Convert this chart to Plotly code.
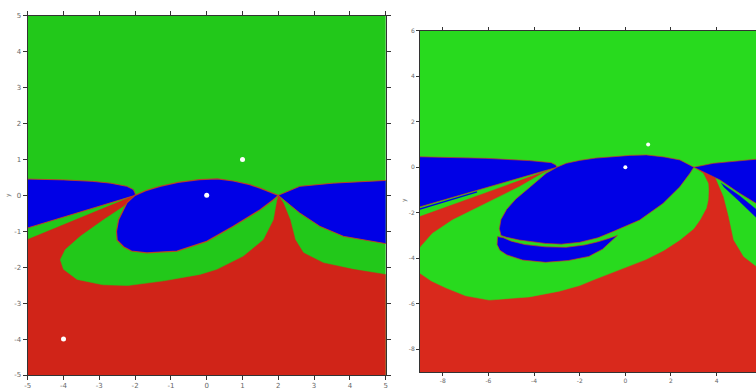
import plotly.graph_objects as go

# ---------------- data ----------------
# Left panel: x, y in [-5, 5]
L_TICKS = [-5, -4, -3, -2, -1, 0, 1, 2, 3, 4, 5]

L_RED_X = [-5.3, -5.0, -2.0, 2.0, 2.14, 2.33, 2.47, 2.7, 3.26, 4.09, 4.98, 5.3, 5.3, -5.3]
L_RED_Y = [-1.35, -1.23, 0.0, 0.0, -0.21, -0.68, -1.23, -1.6, -1.88, -2.06, -2.2, -2.24, -5.3, -5.3]

L_CRES_X = [-2.0, -2.32, -2.88, -3.53, -3.95, -4.09, -4.0, -3.62, -2.9, -2.2, -1.2, -0.19, 0.28, 1.02, 1.58, 1.86, 1.96, 2.0]
L_CRES_Y = [0.0, -0.31, -0.68, -1.14, -1.51, -1.79, -2.06, -2.34, -2.49, -2.51, -2.38, -2.2, -2.06, -1.69, -1.23, -0.68, -0.12, 0.0]

L_LOBE_L_X = [-5.3, -5.0, -4.0, -3.2, -2.69, -2.23, -2.05, -2.0, -2.0, -5.0, -5.3]
L_LOBE_L_Y = [0.46, 0.456, 0.43, 0.39, 0.34, 0.25, 0.16, 0.06, 0.0, -0.906, -0.997]

L_LOBE_R_X = [2.0, 2.6, 3.54, 4.98, 5.3, 5.3, 4.98, 3.82, 3.16, 2.6, 2.0]
L_LOBE_R_Y = [0.0, 0.25, 0.34, 0.42, 0.43, -1.38, -1.34, -1.14, -0.86, -0.49, 0.0]

L_ELL_X = [-2.0, -1.7, -1.3, -0.8, -0.2, 0.3, 0.74, 1.2, 1.49, 1.8, 2.0,
           1.86, 1.49, 0.74, 0.0, -0.83, -1.67, -2.1, -2.32, -2.5, -2.52, -2.46, -2.23, -2.0]
L_ELL_Y = [0.0, 0.13, 0.25, 0.36, 0.44, 0.46, 0.4, 0.3, 0.2, 0.08, 0.0,
           -0.12, -0.4, -0.86, -1.28, -1.55, -1.6, -1.55, -1.43, -1.25, -1.0, -0.68, -0.21, 0.0]

L_PTS_X = [1, 0, -4]
L_PTS_Y = [1, 0, -4]

# Right panel: x in [-9, ~5.7], y in [-9, 6]
R_XTICKS = [-8, -6, -4, -2, 0, 2, 4]
R_YTICKS = [-8, -6, -4, -2, 0, 2, 4, 6]

R_RED_X = [-9.5, -3.0, 3.0, 3.85, 4.29, 4.51, 4.73, 5.17, 5.73, 6.3, 6.3, -9.5]
R_RED_Y = [-2.35, 0.0, 0.0, -0.27, -1.3, -2.17, -3.2, -3.93, -4.37, -4.6, -9.5, -9.5]

R_CRES_X = [-3.0, -3.62, -4.65, -6.11, -7.58, -8.46, -8.97, -9.3, -9.3, -9.0, -8.5, -7.87, -7.0, -5.96,
            -4.21, -2.9, -2.0, -1.42, -0.54, 0.04, 0.92, 1.7, 2.39, 3.0, 3.27, 3.55, 3.63, 3.65, 3.63, 3.41, 3.0]
R_CRES_Y = [0.0, -0.27, -0.86, -1.59, -2.32, -2.91, -3.49, -4.0, -4.5, -4.66, -5.0, -5.3, -5.65, -5.84,
            -5.7, -5.45, -5.2, -4.96, -4.62, -4.37, -4.05, -3.65, -3.2, -2.7, -2.32, -1.8, -1.44, -1.0, -0.71, -0.27, 0.0]

R_LOBE_L_X = [-9.5, -9.0, -6.11, -4.21, -3.25, -3.05, -3.0, -9.0, -9.5]
R_LOBE_L_Y = [0.47, 0.46, 0.39, 0.29, 0.2, 0.1, 0.0, -1.74, -1.89]

R_STRIPE_L_X = [-9.5, -6.5]
R_STRIPE_L_Y = [-1.99, -1.08]

R_LOBE_R_X = [3.0, 3.85, 5.73, 6.3, 6.3, 5.73, 5.02, 4.15, 3.0]
R_LOBE_R_Y = [0.0, 0.17, 0.35, 0.38, -1.8, -1.59, -1.15, -0.56, 0.0]

R_STREAK_X = [4.2, 5.0, 5.73, 6.3, 6.3, 5.73, 5.0, 4.3]
R_STREAK_Y = [-0.7, -1.25, -1.85, -2.1, -2.5, -2.2, -1.5, -0.85]

R_ELL_X = [-3.0, -2.59, -2.0, -1.3, -0.54, 0.2, 0.92, 1.7, 2.39, 2.75, 3.0,
           2.83, 2.39, 1.65, 0.63, -0.54, -1.2, -2.0, -2.8, -3.5, -4.65, -5.2, -5.45,
           -5.52, -5.45, -5.2, -4.8, -4.21, -3.47, -3.0]
R_ELL_Y = [0.0, 0.17, 0.3, 0.4, 0.46, 0.52, 0.54, 0.45, 0.32, 0.15, 0.0,
           -0.27, -0.86, -1.59, -2.32, -2.83, -3.1, -3.3, -3.38, -3.35, -3.2, -3.08, -3.0,
           -2.7, -2.3, -1.85, -1.4, -0.9, -0.27, 0.0]

R_BCRES_X = [-5.6, -5.62, -5.5, -5.2, -4.5, -3.5, -2.5, -1.6, -1.0, -0.6, -0.35,
             -0.7, -1.2, -1.8, -2.6, -3.5, -4.4, -5.0, -5.35, -5.6]
R_BCRES_Y = [-3.05, -3.4, -3.65, -3.85, -4.08, -4.18, -4.1, -3.92, -3.6, -3.25, -3.0,
             -3.12, -3.28, -3.42, -3.52, -3.5, -3.4, -3.25, -3.1, -3.05]

R_PTS_X = [1, 0]
R_PTS_Y = [1, 0]

AXIS_TITLE = "y"

# ---------------- styles ----------------
L_GREEN, L_RED, BLUE = "#22c81a", "#d02418", "#0000e6"
R_GREEN, R_RED = "#28da1e", "#d9291c"
EDGE = "rgba(205,60,30,0.85)"

fig = go.Figure()


def poly(xs, ys, color, ax, ay, edge=None, ew=1.0):
    fig.add_trace(go.Scatter(
        x=xs, y=ys, mode="lines", fill="toself", fillcolor=color,
        line=dict(color=edge if edge else color, width=ew if edge else 0.5),
        hoverinfo="skip", showlegend=False, xaxis=ax, yaxis=ay))


# left panel
poly([-5.3, 5.3, 5.3, -5.3], [-5.3, -5.3, 5.3, 5.3], L_GREEN, "x", "y")
poly(L_RED_X, L_RED_Y, L_RED, "x", "y")
poly(L_CRES_X, L_CRES_Y, L_GREEN, "x", "y")
poly(L_LOBE_L_X, L_LOBE_L_Y, BLUE, "x", "y", EDGE, 1.0)
poly(L_LOBE_R_X, L_LOBE_R_Y, BLUE, "x", "y", EDGE, 1.0)
poly(L_ELL_X, L_ELL_Y, BLUE, "x", "y", EDGE, 1.2)
fig.add_trace(go.Scatter(x=L_PTS_X, y=L_PTS_Y, mode="markers",
                         marker=dict(color="white", size=5), hoverinfo="skip",
                         showlegend=False, xaxis="x", yaxis="y"))

# right panel
poly([-9.5, 6.3, 6.3, -9.5], [-9.5, -9.5, 6.5, 6.5], R_GREEN, "x2", "y2")
poly(R_RED_X, R_RED_Y, R_RED, "x2", "y2")
poly(R_CRES_X, R_CRES_Y, R_GREEN, "x2", "y2")
poly(R_LOBE_L_X, R_LOBE_L_Y, BLUE, "x2", "y2", EDGE, 0.8)
fig.add_trace(go.Scatter(x=R_STRIPE_L_X, y=R_STRIPE_L_Y, mode="lines",
                         line=dict(color=BLUE, width=1.3), hoverinfo="skip",
                         showlegend=False, xaxis="x2", yaxis="y2"))
poly(R_LOBE_R_X, R_LOBE_R_Y, BLUE, "x2", "y2", EDGE, 0.8)
poly(R_STREAK_X, R_STREAK_Y, BLUE, "x2", "y2")
poly(R_ELL_X, R_ELL_Y, BLUE, "x2", "y2", EDGE, 0.8)
poly(R_BCRES_X, R_BCRES_Y, BLUE, "x2", "y2", EDGE, 0.8)
fig.add_trace(go.Scatter(x=R_PTS_X, y=R_PTS_Y, mode="markers",
                         marker=dict(color="white", size=4), hoverinfo="skip",
                         showlegend=False, xaxis="x2", yaxis="y2"))

W, H = 756, 389


def axis(domain, rng, tickvals, size, ticklen, mirror, anchor):
    return dict(domain=domain, range=rng, tickvals=tickvals,
                ticktext=[str(v) for v in tickvals], showgrid=False, zeroline=False,
                showline=True, linecolor="#333", linewidth=1, ticks="outside",
                ticklen=ticklen, tickcolor="#333", tickwidth=1, mirror=mirror,
                tickfont=dict(family="DejaVu Sans", size=size, color="#666"),
                automargin=False, anchor=anchor, fixedrange=True)


fig.update_layout(
    width=W, height=H, margin=dict(l=0, r=0, t=0, b=0),
    template="none", paper_bgcolor="white", plot_bgcolor="white",
    showlegend=False,
    xaxis=axis([27.7 / W, 385.7 / W], [-5, 5], L_TICKS, 7, 4, "ticks", "y"),
    yaxis=axis([(H - 375.0) / H, (H - 15.7) / H], [-5, 5], L_TICKS, 7, 4, "ticks", "x"),
    xaxis2=axis([420.0 / W, 1.0], [-9, (756 - 625.7) / 22.75], R_XTICKS, 6, 3, "ticks", "y2"),
    yaxis2=axis([(H - 372.0) / H, (H - 30.7) / H], [-9, 6], R_YTICKS, 6, 3, False, "x2"),
    annotations=[
        dict(text=AXIS_TITLE, x=8 / W, y=1 - 195 / H, xref="paper", yref="paper", showarrow=False,
             xanchor="center", yanchor="middle",
             textangle=-90, font=dict(family="DejaVu Sans", size=6, color="#666")),
        dict(text=AXIS_TITLE, x=404 / W, y=1 - 200 / H, xref="paper", yref="paper", showarrow=False,
             xanchor="center", yanchor="middle",
             textangle=-90, font=dict(family="DejaVu Sans", size=6, color="#666")),
    ],
)

fig.write_html("out.html", config={"displayModeBar": False},
               post_script="document.body.style.margin='0';document.body.style.overflow='hidden';")
